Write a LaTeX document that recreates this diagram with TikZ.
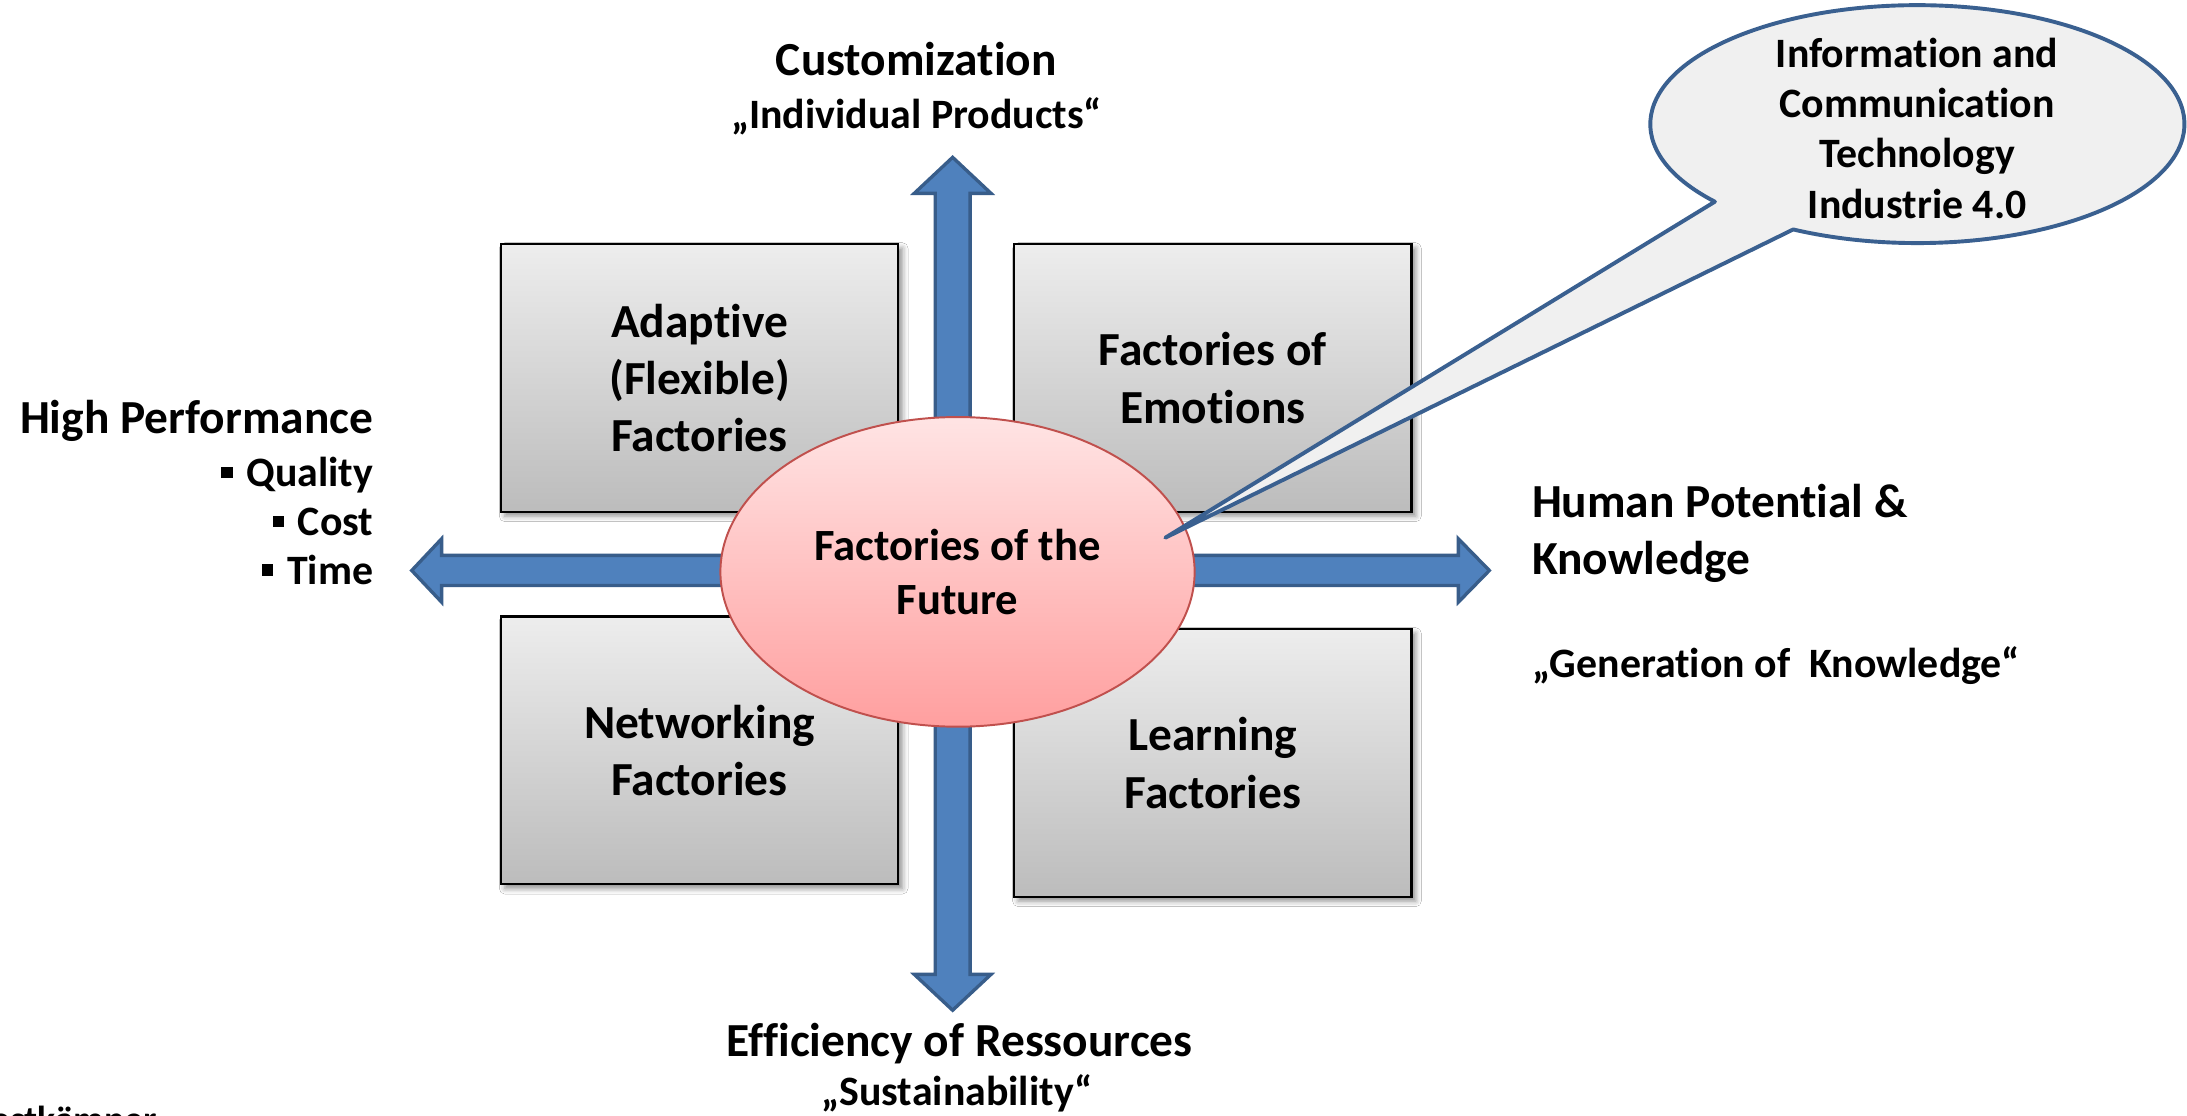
\documentclass[tikz,border=0pt]{standalone}
\usepackage{fontspec}
\setmainfont{Carlito}[Ligatures={NoCommon}]
\usetikzlibrary{shadows.blur,shapes.geometric}
\definecolor{arrowfill}{HTML}{4F81BD}
\definecolor{arrowline}{HTML}{385D8A}
\definecolor{boxtop}{HTML}{EDEDED}
\definecolor{boxbot}{HTML}{BCBCBC}
\definecolor{elltop}{HTML}{FFE4E4}
\definecolor{ellbot}{HTML}{FF9F9F}
\definecolor{ellline}{HTML}{C0504D}
\definecolor{callfill}{HTML}{F0F0F0}
\definecolor{callline}{HTML}{3A6090}
\newcommand{\sqbul}{\raisebox{0.2em}{\rule{0.27em}{0.27em}}\hspace{0.33em}}
\begin{document}
\begin{tikzpicture}[x=0.5pt,y=-0.5pt,
  bigarrow/.style={fill=arrowfill,draw=arrowline,line width=1.2pt,line join=miter},
  factbox/.style={rectangle,draw=black,line width=0.8pt,top color=boxtop,bottom color=boxbot,
    minimum width=142.5pt,minimum height=96pt,inner sep=0pt,align=center,
    font=\bfseries\fontsize{17}{20.5}\selectfont,
    blur shadow={shadow xshift=1.5pt,shadow yshift=-1.5pt,shadow blur radius=2pt,shadow opacity=45}},
  fofell/.style={ellipse,draw=ellline,line width=0.7pt,top color=elltop,bottom color=ellbot,
    minimum width=170pt,minimum height=111pt,inner sep=0pt,align=center,
    font=\bfseries\fontsize{16}{19.5}\selectfont},
  callout/.style={fill=callfill,draw=callline,line width=1.4pt,line join=round},
  bigtxt/.style={font=\bfseries\fontsize{17}{20.5}\selectfont,inner sep=0pt},
  smalltxt/.style={font=\bfseries\fontsize{15}{18}\selectfont,inner sep=0pt},
  calltxt/.style={font=\bfseries\fontsize{15}{18}\selectfont,inner sep=0pt,align=center}]
\useasboundingbox (0,0) rectangle (1568,800);
\fill[white] (0,0) rectangle (1568,800);
\begin{scope}
\clip (0,0) rectangle (1568,800);
% block arrows
\draw[bigarrow] (670.5,410) -- (670.5,138.6) -- (655.5,138.6) -- (683,112.8) -- (710.5,138.6) -- (695.5,138.6) -- (695.5,410) -- cycle;
\draw[bigarrow] (670.5,410) -- (670.5,698.6) -- (655.5,698.6) -- (683,724.3) -- (710.5,698.6) -- (695.5,698.6) -- (695.5,410) -- cycle;
\draw[bigarrow] (683,398.2) -- (316.6,398.2) -- (316.6,386.3) -- (295.2,409) -- (316.6,431.7) -- (316.6,419.8) -- (683,419.8) -- cycle;
\draw[bigarrow] (683,398.2) -- (1045.6,398.2) -- (1045.6,386.3) -- (1067.8,409) -- (1045.6,431.7) -- (1045.6,419.8) -- (683,419.8) -- cycle;
% boxes
\node[factbox] (adaptive) at (501.5,271) {Adaptive\\(Flexible)\\Factories};
\node[factbox] (emotions) at (869.5,271) {Factories of\\Emotions};
\node[factbox] (networking) at (501.5,538) {Networking\\Factories};
\node[factbox] (learning) at (869.5,547) {Learning\\Factories};
% central ellipse
\node[fofell] (fof) at (686.5,410) {Factories of the\\Future};
% callout
\coordinate (tip) at (835.5,385.5);
\draw[callout] (tip) -- (1229.5,144.6) arc[start angle=139.3,end angle=477.7,x radius=191.5,y radius=85.3] -- cycle;
\node[calltxt] (ict) at (1374.5,92) {Information and\\Communication\\Technology\\Industrie 4.0};
% axis labels
\node[bigtxt,anchor=mid] (cust) at (657,49) {Customization};
\node[smalltxt,anchor=mid] (indiv) at (657,87) {„Individual Products“};
\node[bigtxt,anchor=mid east] (hp) at (268,306) {High Performance};
\node[smalltxt,anchor=mid east] (qual) at (268,344) {\sqbul Quality};
\node[smalltxt,anchor=mid east] (cost) at (268,379) {\sqbul Cost};
\node[smalltxt,anchor=mid east] (time) at (268,414) {\sqbul Time};
\node[bigtxt,anchor=mid west] (human) at (1098,366) {Human Potential \&};
\node[bigtxt,anchor=mid west] (know) at (1098,407) {Knowledge};
\node[smalltxt,anchor=mid west] (gen) at (1098,481) {„Generation of\ \ Knowledge“};
\node[bigtxt,anchor=mid] (eff) at (688,753) {Efficiency of Ressources};
\node[smalltxt,anchor=mid] (sust) at (686,788) {„Sustainability“};
\node[font=\bfseries\fontsize{13.5}{16}\selectfont,inner sep=0pt,anchor=mid east] (author) at (113,807) {Westkämper};
\end{scope}
\end{tikzpicture}
\end{document}
